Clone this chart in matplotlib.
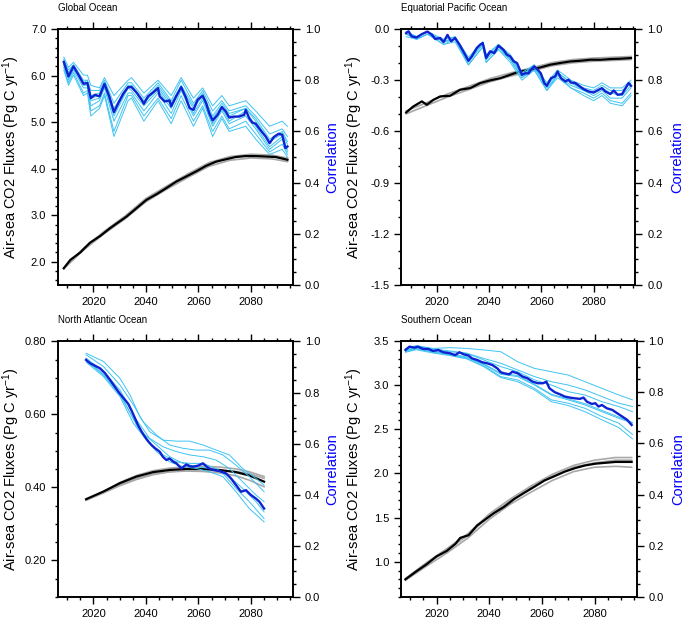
import matplotlib
matplotlib.use("Agg")
import matplotlib.pyplot as plt
from matplotlib.ticker import MultipleLocator, FuncFormatter

plt.rcParams['font.family'] = ['Liberation Sans', 'DejaVu Sans']
plt.rcParams['mathtext.default'] = 'regular'

#----------------------------------------------------------------------
# data
#----------------------------------------------------------------------

# Global Ocean
glo_flux_yr = [2008.7, 2011.2, 2015.0, 2018.7, 2022.5, 2026.3, 2028.8, 2032.6, 2036.4, 2040.2, 2044.0, 2047.7,
               2051.5, 2055.3, 2059.1, 2062.9, 2066.7, 2070.4, 2074.2, 2078.0, 2081.8, 2085.6, 2089.4, 2093.9]
glo_flux = [1.86, 2.04, 2.20, 2.41, 2.55, 2.72, 2.82, 2.97, 3.15, 3.33, 3.45, 3.58,
            3.72, 3.83, 3.94, 4.06, 4.15, 4.20, 4.25, 4.27, 4.27, 4.26, 4.25, 4.19]
glo_grey_yr = [2008.7, 2016, 2024, 2032, 2040, 2048, 2056, 2064, 2072, 2080, 2088, 2093.9]
glo_grey = [
    [1.87, 2.28, 2.65, 2.98, 3.36, 3.63, 3.89, 4.13, 4.26, 4.31, 4.29, 4.23],
    [1.85, 2.24, 2.60, 2.92, 3.29, 3.56, 3.81, 4.05, 4.18, 4.23, 4.21, 4.15],
    [1.86, 2.27, 2.63, 2.96, 3.34, 3.61, 3.86, 4.10, 4.24, 4.29, 4.27, 4.21],
]
glo_corr_yr = [2008.7, 2010.5, 2012.4, 2014.3, 2016.2, 2017.7, 2019.0, 2020.6, 2022.3, 2024.2, 2026.0, 2027.8,
               2029.5, 2031.3, 2033.2, 2034.5, 2036.4, 2038.3, 2039.2, 2040.8, 2042.7, 2044.6, 2045.2, 2047.1,
               2049.0, 2049.6, 2051.5, 2053.4, 2055.0, 2056.6, 2058.1, 2059.7, 2061.6, 2062.9, 2064.1, 2065.4,
               2067.3, 2068.9, 2070.4, 2071.7, 2073.6, 2075.5, 2077.4, 2078.0, 2079.3, 2080.5, 2081.8, 2083.7,
               2085.6, 2087.1, 2088.7, 2090.6, 2091.9, 2093.1, 2093.9]
glo_corr = [0.871, 0.815, 0.854, 0.821, 0.786, 0.789, 0.730, 0.743, 0.737, 0.786, 0.737, 0.675,
            0.711, 0.747, 0.773, 0.773, 0.752, 0.724, 0.708, 0.737, 0.752, 0.769, 0.737, 0.717,
            0.721, 0.698, 0.737, 0.773, 0.737, 0.691, 0.684, 0.724, 0.739, 0.711, 0.671, 0.643,
            0.665, 0.695, 0.678, 0.654, 0.658, 0.658, 0.665, 0.684, 0.652, 0.635, 0.630, 0.604,
            0.580, 0.554, 0.578, 0.591, 0.587, 0.535, 0.541]
glo_memb_yr = [2008.7, 2010.5, 2012.4, 2016.2, 2017.7, 2019.0, 2022.3, 2024.2, 2027.8, 2033.2, 2034.5, 2039.2,
               2044.6, 2049.6, 2053.4, 2058.1, 2061.6, 2065.4, 2068.9, 2071.7, 2078.0, 2081.8, 2087.1, 2091.9, 2093.9]
glo_memb = [
    [0.89, 0.85, 0.87, 0.82, 0.82, 0.78, 0.77, 0.81, 0.74, 0.80, 0.81, 0.75, 0.80, 0.74, 0.81, 0.73, 0.77, 0.70, 0.74, 0.70, 0.72, 0.68, 0.62, 0.64, 0.62],
    [0.88, 0.84, 0.86, 0.80, 0.80, 0.76, 0.76, 0.80, 0.71, 0.79, 0.79, 0.73, 0.79, 0.72, 0.80, 0.71, 0.76, 0.68, 0.72, 0.68, 0.70, 0.66, 0.59, 0.61, 0.58],
    [0.87, 0.83, 0.86, 0.79, 0.80, 0.74, 0.75, 0.79, 0.69, 0.78, 0.78, 0.72, 0.78, 0.71, 0.78, 0.70, 0.75, 0.66, 0.71, 0.67, 0.69, 0.65, 0.57, 0.60, 0.56],
    [0.88, 0.82, 0.85, 0.79, 0.79, 0.73, 0.74, 0.78, 0.68, 0.77, 0.78, 0.71, 0.77, 0.70, 0.77, 0.69, 0.74, 0.65, 0.70, 0.66, 0.69, 0.64, 0.56, 0.59, 0.55],
    [0.86, 0.81, 0.85, 0.78, 0.78, 0.72, 0.73, 0.78, 0.66, 0.77, 0.76, 0.70, 0.76, 0.69, 0.77, 0.67, 0.73, 0.63, 0.69, 0.64, 0.68, 0.62, 0.54, 0.58, 0.53],
    [0.86, 0.80, 0.84, 0.77, 0.77, 0.70, 0.72, 0.77, 0.64, 0.75, 0.75, 0.68, 0.75, 0.67, 0.76, 0.66, 0.72, 0.62, 0.68, 0.63, 0.66, 0.61, 0.53, 0.57, 0.52],
    [0.85, 0.79, 0.83, 0.75, 0.76, 0.68, 0.70, 0.75, 0.60, 0.74, 0.74, 0.66, 0.73, 0.65, 0.74, 0.64, 0.70, 0.60, 0.66, 0.61, 0.64, 0.59, 0.52, 0.55, 0.51],
    [0.84, 0.78, 0.82, 0.74, 0.75, 0.66, 0.69, 0.74, 0.58, 0.72, 0.73, 0.64, 0.72, 0.63, 0.72, 0.62, 0.69, 0.58, 0.65, 0.60, 0.62, 0.57, 0.51, 0.53, 0.50],
]

# Equatorial Pacific Ocean
eqp_flux_yr = [2008.3, 2011.0, 2014.3, 2016.2, 2018.7, 2021.3, 2025.1, 2028.9, 2032.8, 2036.6, 2040.4, 2044.3,
               2048.1, 2051.9, 2055.8, 2059.6, 2063.4, 2067.3, 2071.1, 2074.9, 2078.7, 2082.6, 2086.4, 2090.2, 2094.3]
eqp_flux = [-0.489, -0.454, -0.424, -0.444, -0.415, -0.395, -0.391, -0.356, -0.346, -0.317, -0.301, -0.288,
            -0.268, -0.248, -0.239, -0.225, -0.209, -0.199, -0.190, -0.186, -0.180, -0.180, -0.176, -0.174, -0.170]
eqp_grey_yr = [2008.3, 2016, 2024, 2032, 2040, 2048, 2056, 2064, 2072, 2080, 2088, 2094.3]
eqp_grey = [
    [-0.480, -0.432, -0.381, -0.337, -0.292, -0.258, -0.229, -0.197, -0.179, -0.170, -0.165, -0.161],
    [-0.497, -0.449, -0.399, -0.356, -0.311, -0.277, -0.248, -0.216, -0.198, -0.189, -0.184, -0.179],
]
eqp_corr_yr = [2008.3, 2009.2, 2010.4, 2012.3, 2014.3, 2016.4, 2018.1, 2019.4, 2021.3, 2022.6, 2024.1, 2025.5,
               2027.0, 2028.7, 2030.5, 2032.1, 2033.4, 2035.3, 2036.6, 2037.6, 2038.9, 2040.4, 2042.0, 2043.6,
               2045.5, 2046.8, 2048.1, 2049.4, 2050.7, 2052.6, 2053.8, 2055.1, 2056.0, 2057.3, 2058.6, 2059.8,
               2061.1, 2062.1, 2063.7, 2065.3, 2066.2, 2067.5, 2069.2, 2070.4, 2071.3, 2073.0, 2074.7, 2076.2,
               2078.1, 2080.0, 2082.0, 2083.2, 2084.5, 2086.4, 2087.7, 2089.2, 2090.9, 2092.2, 2093.4, 2094.3]
eqp_corr = [0.984, 0.991, 0.971, 0.967, 0.980, 0.990, 0.978, 0.961, 0.965, 0.949, 0.977, 0.952,
            0.965, 0.939, 0.906, 0.876, 0.893, 0.926, 0.939, 0.945, 0.887, 0.913, 0.906, 0.935,
            0.919, 0.900, 0.893, 0.874, 0.867, 0.821, 0.827, 0.827, 0.841, 0.854, 0.841, 0.827,
            0.789, 0.778, 0.808, 0.815, 0.834, 0.808, 0.795, 0.802, 0.791, 0.789, 0.776, 0.765,
            0.756, 0.752, 0.763, 0.769, 0.756, 0.746, 0.760, 0.743, 0.746, 0.769, 0.789, 0.778]
eqp_memb_yr = [2008.3, 2012.3, 2016.4, 2022.6, 2027.0, 2032.1, 2037.6, 2038.9, 2043.6, 2048.1, 2052.6,
               2057.3, 2062.1, 2066.2, 2071.3, 2076.2, 2080.0, 2083.2, 2086.4, 2090.9, 2094.3]
eqp_memb = [
    [0.99, 0.97, 0.99, 0.96, 0.97, 0.89, 0.95, 0.90, 0.94, 0.90, 0.83, 0.86, 0.79, 0.84, 0.80, 0.78, 0.77, 0.79, 0.77, 0.77, 0.80],
    [0.98, 0.96, 0.98, 0.95, 0.96, 0.88, 0.94, 0.89, 0.93, 0.89, 0.82, 0.85, 0.78, 0.83, 0.79, 0.77, 0.76, 0.78, 0.76, 0.76, 0.79],
    [0.98, 0.97, 0.99, 0.95, 0.96, 0.87, 0.94, 0.88, 0.93, 0.88, 0.81, 0.85, 0.77, 0.82, 0.78, 0.76, 0.74, 0.76, 0.73, 0.73, 0.77],
    [0.97, 0.96, 0.98, 0.94, 0.96, 0.86, 0.93, 0.87, 0.92, 0.88, 0.81, 0.84, 0.76, 0.82, 0.77, 0.75, 0.73, 0.75, 0.72, 0.71, 0.75],
    [0.98, 0.96, 0.98, 0.94, 0.95, 0.86, 0.93, 0.87, 0.92, 0.87, 0.80, 0.84, 0.76, 0.81, 0.77, 0.74, 0.72, 0.74, 0.71, 0.70, 0.74],
    [0.99, 0.97, 0.99, 0.95, 0.97, 0.88, 0.95, 0.89, 0.94, 0.89, 0.82, 0.86, 0.78, 0.83, 0.79, 0.76, 0.75, 0.77, 0.75, 0.74, 0.78],
]

# North Atlantic Ocean
nat_flux_yr = [2017.2, 2023.8, 2030.1, 2036.4, 2042.7, 2049.0, 2055.4, 2061.7, 2068.0, 2074.3, 2079.4, 2085.0]
nat_flux = [0.368, 0.389, 0.412, 0.430, 0.442, 0.448, 0.451, 0.451, 0.448, 0.442, 0.433, 0.416]
nat_grey = [
    [0.366, 0.388, 0.414, 0.433, 0.446, 0.453, 0.457, 0.458, 0.456, 0.451, 0.443, 0.430],
    [0.365, 0.385, 0.405, 0.422, 0.435, 0.443, 0.447, 0.448, 0.447, 0.444, 0.438, 0.425],
    [0.367, 0.387, 0.408, 0.425, 0.437, 0.443, 0.445, 0.444, 0.440, 0.432, 0.420, 0.402],
]
nat_corr_yr = [2017.2, 2018.7, 2020.6, 2022.5, 2024.4, 2026.3, 2028.2, 2030.1, 2032.0, 2033.3, 2034.5, 2035.8,
               2037.0, 2038.3, 2039.6, 2040.8, 2042.1, 2043.4, 2045.2, 2046.5, 2047.8, 2049.0, 2050.3, 2051.6,
               2053.5, 2055.4, 2056.6, 2057.9, 2059.8, 2061.7, 2063.6, 2065.5, 2066.7, 2068.0, 2070.5, 2072.4,
               2074.3, 2076.2, 2078.1, 2080.0, 2081.9, 2083.2, 2084.4, 2085.0]
nat_corr = [0.928, 0.915, 0.905, 0.895, 0.876, 0.850, 0.822, 0.795, 0.772, 0.755, 0.730, 0.700,
            0.672, 0.648, 0.627, 0.610, 0.595, 0.583, 0.569, 0.548, 0.536, 0.542, 0.530, 0.523,
            0.503, 0.519, 0.512, 0.510, 0.514, 0.523, 0.506, 0.497, 0.495, 0.493, 0.484, 0.464,
            0.438, 0.412, 0.418, 0.399, 0.385, 0.373, 0.355, 0.346]
nat_memb_yr = [
    [2017.2, 2023.8, 2030.1, 2033.9, 2037.7, 2041.4, 2046.5, 2051.6, 2056.6, 2061.7, 2066.7, 2071.8, 2076.8, 2081.9, 2085.0],
    [2017.2, 2023.8, 2030.1, 2035.2, 2038.9, 2044.0, 2049.0, 2054.1, 2059.2, 2064.2, 2069.3, 2074.3, 2079.4, 2085.0],
    [2017.2, 2023.8, 2030.1, 2036.4, 2041.4, 2046.5, 2051.6, 2056.6, 2061.7, 2066.7, 2071.8, 2076.8, 2081.9, 2085.0],
    [2017.2, 2023.8, 2030.1, 2035.2, 2038.9, 2044.0, 2049.0, 2054.1, 2059.2, 2064.2, 2069.3, 2074.3, 2079.4, 2085.0],
    [2017.2, 2023.8, 2030.1, 2035.2, 2040.2, 2044.0, 2049.0, 2054.1, 2059.2, 2064.2, 2069.3, 2074.3, 2079.4, 2085.0],
    [2017.2, 2023.8, 2030.1, 2036.4, 2041.4, 2046.5, 2051.6, 2056.6, 2061.7, 2066.7, 2071.8, 2076.8, 2081.9, 2085.0],
]
nat_memb = [
    [0.954, 0.922, 0.856, 0.791, 0.706, 0.647, 0.614, 0.610, 0.610, 0.595, 0.575, 0.556, 0.503, 0.464, 0.438],
    [0.948, 0.902, 0.830, 0.752, 0.686, 0.634, 0.595, 0.582, 0.575, 0.575, 0.556, 0.516, 0.471, 0.412],
    [0.935, 0.882, 0.810, 0.693, 0.621, 0.588, 0.569, 0.556, 0.549, 0.536, 0.503, 0.451, 0.399, 0.373],
    [0.924, 0.869, 0.791, 0.699, 0.641, 0.595, 0.549, 0.523, 0.510, 0.503, 0.484, 0.425, 0.373, 0.307],
    [0.919, 0.863, 0.784, 0.680, 0.614, 0.569, 0.529, 0.510, 0.503, 0.490, 0.471, 0.412, 0.346, 0.294],
    [0.928, 0.872, 0.797, 0.673, 0.601, 0.556, 0.529, 0.523, 0.523, 0.503, 0.471, 0.425, 0.373, 0.333],
]

# Southern Ocean
sou_flux_yr = [2008.2, 2012.3, 2016.2, 2020.0, 2023.8, 2027.1, 2029.0, 2032.2, 2035.4, 2038.6, 2041.8, 2045.6,
               2049.5, 2053.3, 2057.2, 2061.0, 2064.9, 2068.7, 2072.6, 2076.4, 2080.3, 2084.1, 2088.0, 2091.8, 2094.1]
sou_flux = [0.80, 0.89, 0.97, 1.06, 1.12, 1.20, 1.27, 1.30, 1.41, 1.48, 1.55, 1.62,
            1.71, 1.78, 1.85, 1.92, 1.97, 2.02, 2.06, 2.09, 2.11, 2.12, 2.13, 2.13, 2.13]
sou_grey_yr = [2008.2, 2016.2, 2024, 2032, 2040, 2048, 2056, 2064, 2072, 2080, 2088, 2094.1]
sou_grey = [
    [0.81, 0.99, 1.15, 1.32, 1.54, 1.71, 1.86, 1.99, 2.09, 2.15, 2.18, 2.18],
    [0.79, 0.95, 1.10, 1.27, 1.48, 1.65, 1.79, 1.92, 2.02, 2.07, 2.08, 2.07],
    [0.80, 0.98, 1.13, 1.30, 1.52, 1.69, 1.84, 1.97, 2.07, 2.12, 2.15, 2.15],
]
sou_corr_yr = [2008.2, 2009.7, 2011.7, 2012.9, 2014.9, 2016.8, 2018.7, 2020.6, 2022.6, 2025.1, 2027.1, 2028.7,
               2030.3, 2032.2, 2033.5, 2035.4, 2037.3, 2039.2, 2041.2, 2043.1, 2044.4, 2045.6, 2047.6, 2048.8,
               2050.8, 2052.7, 2054.6, 2056.5, 2058.5, 2060.4, 2061.7, 2062.9, 2064.9, 2066.8, 2068.7, 2070.6,
               2072.6, 2074.5, 2075.8, 2077.1, 2079.0, 2080.3, 2081.5, 2082.8, 2084.7, 2086.7, 2088.6, 2090.5,
               2092.4, 2094.1]
sou_corr = [0.965, 0.978, 0.974, 0.978, 0.969, 0.969, 0.961, 0.965, 0.956, 0.952, 0.945, 0.956,
            0.948, 0.943, 0.932, 0.926, 0.917, 0.913, 0.906, 0.893, 0.878, 0.874, 0.870, 0.880,
            0.874, 0.861, 0.854, 0.841, 0.835, 0.835, 0.841, 0.815, 0.800, 0.792, 0.783, 0.779,
            0.776, 0.774, 0.779, 0.763, 0.754, 0.757, 0.744, 0.750, 0.737, 0.731, 0.718, 0.705,
            0.692, 0.672]
sou_memb_yr = [2008.2, 2012.3, 2018.7, 2025.1, 2031.5, 2037.9, 2044.4, 2050.8, 2057.2, 2063.6, 2070.0,
               2076.4, 2082.8, 2089.2, 2094.4]
sou_memb = [
    [0.971, 0.982, 0.971, 0.974, 0.971, 0.965, 0.958, 0.919, 0.893, 0.880, 0.867, 0.841, 0.815, 0.789, 0.770],
    [0.969, 0.978, 0.969, 0.961, 0.952, 0.932, 0.913, 0.887, 0.861, 0.841, 0.828, 0.809, 0.783, 0.757, 0.744],
    [0.965, 0.974, 0.965, 0.958, 0.952, 0.926, 0.900, 0.880, 0.848, 0.828, 0.802, 0.789, 0.763, 0.744, 0.724],
    [0.961, 0.971, 0.958, 0.948, 0.935, 0.909, 0.870, 0.861, 0.828, 0.789, 0.770, 0.750, 0.724, 0.698, 0.679],
    [0.958, 0.969, 0.956, 0.945, 0.932, 0.904, 0.861, 0.848, 0.815, 0.770, 0.757, 0.737, 0.705, 0.679, 0.635],
    [0.956, 0.966, 0.953, 0.943, 0.930, 0.900, 0.857, 0.841, 0.809, 0.763, 0.748, 0.724, 0.692, 0.662, 0.618],
    [0.963, 0.974, 0.961, 0.950, 0.938, 0.911, 0.874, 0.865, 0.831, 0.792, 0.774, 0.755, 0.729, 0.703, 0.682],
]

#----------------------------------------------------------------------
# plotting
#----------------------------------------------------------------------

light_blue = '#3ec3f2'
dark_blue = '#0f22d2'
ylab = 'Air-sea CO2 Fluxes (Pg C yr$^{-1}$)'

fig = plt.figure(figsize=(6.85, 6.2), dpi=100)


def fmt(nd):
    # no "-0.0" on the axis
    return FuncFormatter(lambda v, p: f'{0.0 if abs(v) < 1e-9 else v:.{nd}f}')


def panel(rect, title, flux_yr, flux, grey_yr, grey, corr_yr, corr, memb_yr, memb,
          ylim, ymajor, yminor, nd, ylab_x, corr_x):
    ax = fig.add_axes(rect)
    for g in grey:
        ax.plot(grey_yr, g, color='#a8a8a8', lw=1.2, zorder=1)
    ax.plot(flux_yr, flux, color='black', lw=1.6, zorder=2)
    ax.set_xlim(2006.5, 2096)
    ax.set_ylim(*ylim)
    ax.xaxis.set_major_locator(MultipleLocator(20))
    ax.xaxis.set_minor_locator(MultipleLocator(5))
    ax.yaxis.set_major_locator(MultipleLocator(ymajor))
    ax.yaxis.set_minor_locator(MultipleLocator(yminor))
    ax.yaxis.set_major_formatter(fmt(nd))
    ax.tick_params(which='both', direction='out', top=True, right=False, labelsize=8, width=1)
    ax.tick_params(which='major', length=5)
    ax.tick_params(which='minor', length=2.5)
    ax.set_ylabel(ylab, fontsize=10.5)
    ax.yaxis.set_label_coords(ylab_x, 0.5)
    ax.set_title(title, loc='left', fontsize=7, pad=13)
    for s in ax.spines.values():
        s.set_linewidth(1.2)

    ax2 = ax.twinx()
    for i, m in enumerate(memb):
        yrs = memb_yr[i] if isinstance(memb_yr[0], list) else memb_yr
        ax2.plot(yrs, m, color=light_blue, lw=0.7, zorder=1)
    ax2.plot(corr_yr, corr, color=dark_blue, lw=1.7, zorder=3)
    ax2.set_ylim(0, 1)
    ax2.yaxis.set_major_locator(MultipleLocator(0.2))
    ax2.yaxis.set_minor_locator(MultipleLocator(0.05))
    ax2.yaxis.set_major_formatter(fmt(1))
    ax2.tick_params(which='both', direction='out', labelsize=8, width=1)
    ax2.tick_params(which='major', length=5)
    ax2.tick_params(which='minor', length=2.5)
    ax2.set_ylabel('Correlation', color='blue', fontsize=10.5)
    ax2.yaxis.set_label_coords(corr_x, 0.5)
    for s in ax2.spines.values():
        s.set_linewidth(1.2)
    return ax, ax2


panel([0.0847, 0.5403, 0.343, 0.4129], 'Global Ocean', glo_flux_yr, glo_flux, glo_grey_yr, glo_grey,
      glo_corr_yr, glo_corr, glo_memb_yr, glo_memb, (1.5, 7.0), 1.0, 0.2, 1, -0.153, 1.138)
panel([0.5861, 0.5403, 0.3416, 0.4129], 'Equatorial Pacific Ocean', eqp_flux_yr, eqp_flux, eqp_grey_yr, eqp_grey,
      eqp_corr_yr, eqp_corr, eqp_memb_yr, eqp_memb, (-1.5, 0.0), 0.3, 0.1, 1, -0.158, 1.148)
panel([0.0847, 0.0371, 0.343, 0.4121], 'North Atlantic Ocean', nat_flux_yr, nat_flux, nat_flux_yr, nat_grey,
      nat_corr_yr, nat_corr, nat_memb_yr, nat_memb, (0.10, 0.80), 0.2, 0.05, 2, -0.153, 1.138)
panel([0.5854, 0.0371, 0.344, 0.4129], 'Southern Ocean', sou_flux_yr, sou_flux, sou_grey_yr, sou_grey,
      sou_corr_yr, sou_corr, sou_memb_yr, sou_memb, (0.6, 3.5), 0.5, 0.1, 1, -0.153, 1.148)

plt.savefig('out.png', dpi=100)
